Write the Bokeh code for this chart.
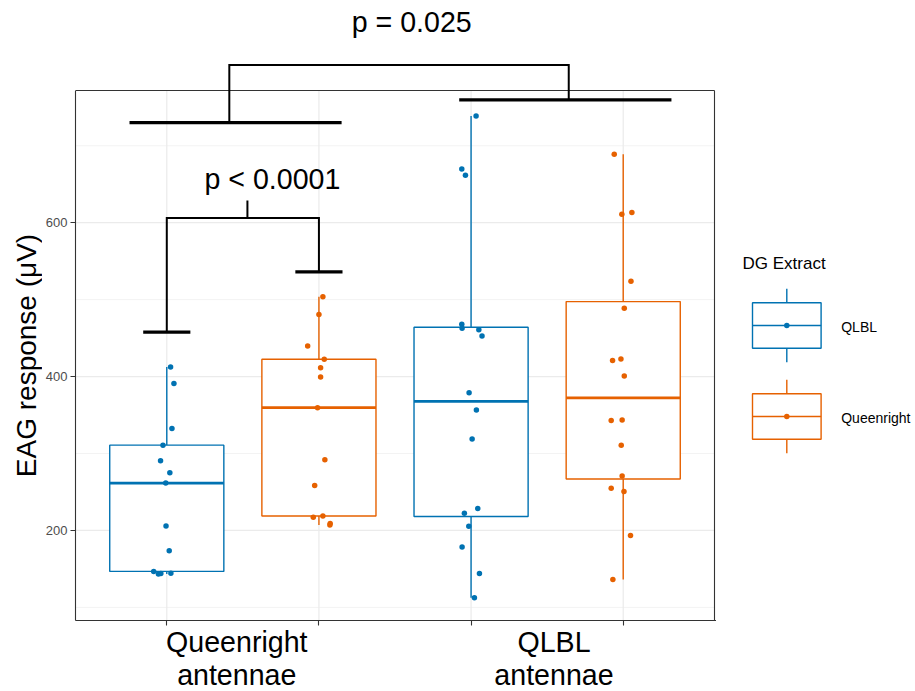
import numpy as np
from math import pi
from bokeh.plotting import figure
from bokeh.models import Range1d, FixedTicker
from bokeh.layouts import row
from bokeh.embed import file_html
from bokeh.resources import INLINE
from bokeh.core.properties import value

# ---------------- data ----------------
antenna_labels = ["Queenright\nantennae", "QLBL\nantennae"]
extract_labels = ["QLBL", "Queenright"]
extract_colors = ["#0072B2", "#E66100"]
y_title = "EAG response (μV)"
legend_title = "DG Extract"

# EAG responses (µV); jitter offsets read as well (x units)
qr_ant_qlbl = [412.5, 390.9, 332.4, 310.9, 290.6, 275.0, 261.6, 205.7, 173.5, 146.8, 143.3, 144.2, 144.5]
qr_ant_qlbl_jit = [0.025, 0.047, 0.034, -0.025, -0.041, 0.020, -0.007, -0.005, 0.016, -0.086, -0.055, -0.039, 0.027]

qr_ant_qr = [503.7, 480.6, 439.8, 422.6, 411.5, 399.5, 359.6, 291.8, 258.3, 217.1, 218.8, 209.0, 207.2]
qr_ant_qr_jit = [0.026, 0.0, -0.074, 0.035, 0.011, 0.011, -0.009, 0.039, -0.028, -0.037, 0.026, 0.074, 0.072]

qlbl_ant_qlbl = [738.7, 669.8, 661.5, 468.1, 462.9, 460.8, 452.6, 378.9, 356.5, 318.8, 228.7, 222.3, 205.5, 178.5, 144.1, 112.5]
qlbl_ant_qlbl_jit = [0.033, -0.061, -0.037, -0.061, -0.059, 0.051, 0.072, -0.013, 0.035, 0.007, 0.044, -0.044, -0.015, -0.059, 0.055, 0.022]

qlbl_ant_qr = [689.1, 610.9, 613.1, 523.8, 488.7, 420.8, 423.0, 400.8, 342.8, 343.6, 310.7, 270.8, 254.8, 250.6, 193.6, 136.4]
qlbl_ant_qr_jit = [-0.059, -0.009, 0.057, 0.051, 0.007, -0.070, -0.015, 0.007, -0.079, -0.007, -0.013, -0.007, -0.079, 0.005, 0.048, -0.068]

groups = [
    (0, 0, qr_ant_qlbl, qr_ant_qlbl_jit),
    (0, 1, qr_ant_qr, qr_ant_qr_jit),
    (1, 0, qlbl_ant_qlbl, qlbl_ant_qlbl_jit),
    (1, 1, qlbl_ant_qr, qlbl_ant_qr_jit),
]

y_major = [200, 400, 600]
y_minor = [100, 300, 500, 700]

# significance annotations
sig_text = ["p < 0.0001", "p = 0.025"]

# ---------------- layout constants ----------------
FONT = "Liberation Sans"
BIG = "28.6px"
X0, X1 = 0.4, 4.6          # panel x limits
Y0, Y1 = 83.0, 771.8       # panel y limits
FW, FH = 641, 620
PTOP = 90                  # pixel offset of panel top inside frame
SY = (FH - PTOP) / (Y1 - Y0)
YTOP = Y1 + PTOP / SY      # top of drawing area (room for brackets)
PXU = 639 / (X1 - X0)
BOXW = 0.75
LEFTW = 42

# ---- left strip holding the y axis title ----
lt = figure(frame_width=LEFTW, frame_height=FH, x_range=Range1d(0, LEFTW), y_range=Range1d(Y0, YTOP),
            output_backend="svg", toolbar_location=None,
            min_border_left=0, min_border_right=0, min_border_top=0, min_border_bottom=0)
lt.axis.visible = False
lt.xgrid.visible = False
lt.ygrid.visible = False
lt.outline_line_color = None
lt.text(x=[26], y=[(Y0 + Y1) / 2], text=[y_title], angle=pi / 2, text_font=value(FONT),
        text_font_size="28px", text_align="center", text_baseline="middle", text_color="black")

# ---- main panel ----
p = figure(frame_width=FW, frame_height=FH,
           x_range=Range1d(X0, X1 + 2 / PXU), y_range=Range1d(Y0, YTOP),
           output_backend="svg", toolbar_location=None,
           min_border_left=75 - LEFTW, min_border_right=0, min_border_top=0, min_border_bottom=0)
p.xgrid.visible = False
p.ygrid.visible = False
p.outline_line_color = None
p.background_fill_color = "white"
p.border_fill_color = "white"

# x axis: ticks at group positions, labels placed under each antenna pair
xpos = [1, 2, 3, 4]
label_pos = [1.46, 3.545]
p.xaxis.ticker = FixedTicker(ticks=label_pos, minor_ticks=xpos)
p.xaxis.major_label_overrides = {lp: lab for lp, lab in zip(label_pos, antenna_labels)}
p.xaxis.major_tick_line_color = None
p.xaxis.major_tick_out = 0
p.xaxis.major_tick_in = 0
p.xaxis.minor_tick_out = 5
p.xaxis.minor_tick_in = 0
p.xaxis.minor_tick_line_color = "#333333"
p.xaxis.minor_tick_line_width = 1.1
p.xaxis.axis_line_color = "#333333"
p.xaxis.axis_line_width = 1.1
p.xaxis.major_label_text_font = FONT
p.xaxis.major_label_text_font_size = BIG
p.xaxis.major_label_text_color = "black"
p.xaxis.major_label_standoff = 0
p.xaxis.major_label_text_line_height = 1.05

# y axis
p.yaxis.ticker = FixedTicker(ticks=y_major, minor_ticks=[])
p.yaxis.bounds = (Y0, Y1)
p.yaxis.axis_line_color = "#333333"
p.yaxis.axis_line_width = 1.1
p.yaxis.major_tick_out = 5
p.yaxis.major_tick_in = 0
p.yaxis.major_tick_line_color = "#333333"
p.yaxis.major_tick_line_width = 1.1
p.yaxis.minor_tick_line_color = None
p.yaxis.major_label_text_font = FONT
p.yaxis.major_label_text_font_size = "13px"
p.yaxis.major_label_text_color = "#4D4D4D"
p.yaxis.major_label_standoff = 3

# grid lines (confined to the panel)
p.segment(x0=X0, x1=X1, y0=y_minor, y1=y_minor, line_color="#EBEBEB", line_width=0.6)
p.segment(x0=X0, x1=X1, y0=y_major, y1=y_major, line_color="#EBEBEB", line_width=1.2)
p.segment(x0=xpos, x1=xpos, y0=Y0, y1=Y1, line_color="#EBEBEB", line_width=1.2)
# panel border (top and right; left/bottom are the axis lines)
p.segment(x0=[X0, X1], x1=[X1, X1], y0=[Y1, Y0], y1=[Y1, Y1], line_color="#333333", line_width=1.1)

# boxplots
for ai, ei, vals, jit in groups:
    x = 2 * ai + ei + 1
    col = extract_colors[ei]
    v = np.array(vals)
    q1, med, q3 = np.percentile(v, [25, 50, 75])
    iqr = q3 - q1
    hi = v[v <= q3 + 1.5 * iqr].max()
    lo = v[v >= q1 - 1.5 * iqr].min()
    p.segment(x0=[x, x], x1=[x, x], y0=[q3, q1], y1=[hi, lo], line_color=col, line_width=1.4)
    p.quad(left=x - BOXW / 2, right=x + BOXW / 2, bottom=q1, top=q3,
           fill_color="white", line_color=col, line_width=1.4)
    p.segment(x0=x - BOXW / 2, x1=x + BOXW / 2, y0=med, y1=med, line_color=col, line_width=2.8)
    p.scatter(x=list(x + np.array(jit)), y=vals, size=5.5, color=col, line_width=0)

# significance brackets
BW = 3.3
LW = 2.0
# bracket 1
p.segment(x0=[1 - 0.155, 2 - 0.155], x1=[1 + 0.155, 2 + 0.155], y0=[457.8, 536.0], y1=[457.8, 536.0],
          line_color="black", line_width=BW)
p.line(x=[1, 1, 2, 2], y=[457.8, 606.0, 606.0, 536.0], line_color="black", line_width=LW, line_join="miter")
p.segment(x0=1.53, x1=1.53, y0=606.0, y1=628.7, line_color="black", line_width=LW)
p.text(x=[1.694], y=[656.2], text=[sig_text[0]], text_font=value(FONT), text_font_size=BIG,
       text_align="center", text_baseline="middle", text_color="black")
# bracket 2
p.segment(x0=[0.755, 2.922], x1=[2.149, 4.317], y0=[730.0, 759.6], y1=[730.0, 759.6],
          line_color="black", line_width=BW)
p.line(x=[1.411, 1.411, 3.642, 3.642], y=[730.0, 805.0, 805.0, 759.6], line_color="black",
       line_width=LW, line_join="miter")
p.text(x=[2.61], y=[860.7], text=[sig_text[1]], text_font=value(FONT), text_font_size=BIG,
       text_align="center", text_baseline="middle", text_color="black")

# ---------------- legend (separate panel) ----------------
LWID = 915 - 75 - FW
LH = FH
lf = figure(frame_width=LWID, frame_height=LH, x_range=Range1d(0, LWID), y_range=Range1d(LH, 0),
            output_backend="svg", toolbar_location=None,
            min_border_left=0, min_border_right=0, min_border_top=0, min_border_bottom=0)
lf.axis.visible = False
lf.xgrid.visible = False
lf.ygrid.visible = False
lf.outline_line_color = None
lf.border_fill_color = "white"

lf.text(x=[26], y=[263.3], text=[legend_title], text_font=value(FONT), text_font_size="17px",
        text_align="left", text_baseline="middle", text_color="black")
key_top = [288.3, 379.3]
for ei, (lab, col) in enumerate(zip(extract_labels, extract_colors)):
    t = key_top[ei]
    wt, bt, md, bb, wb = [t + d for d in (0, 14, 36.7, 59.4, 73.4)]
    cx = 70.3
    lf.segment(x0=[cx, cx], x1=[cx, cx], y0=[wt, bb], y1=[bt, wb], line_color=col, line_width=1.4)
    lf.quad(left=cx - 34.3, right=cx + 34.3, top=bt, bottom=bb, fill_color="white",
            line_color=col, line_width=1.4)
    lf.segment(x0=cx - 34.3, x1=cx + 34.3, y0=md, y1=md, line_color=col, line_width=1.4)
    lf.scatter(x=[cx], y=[md], size=5.5, color=col, line_width=0)
    lf.text(x=[124.7], y=[md + 1.5], text=[lab], text_font=value(FONT), text_font_size="14px",
            text_align="left", text_baseline="middle", text_color="black")

layout = row(lt, p, lf)
open("out.html", "w").write(file_html(layout, INLINE))
